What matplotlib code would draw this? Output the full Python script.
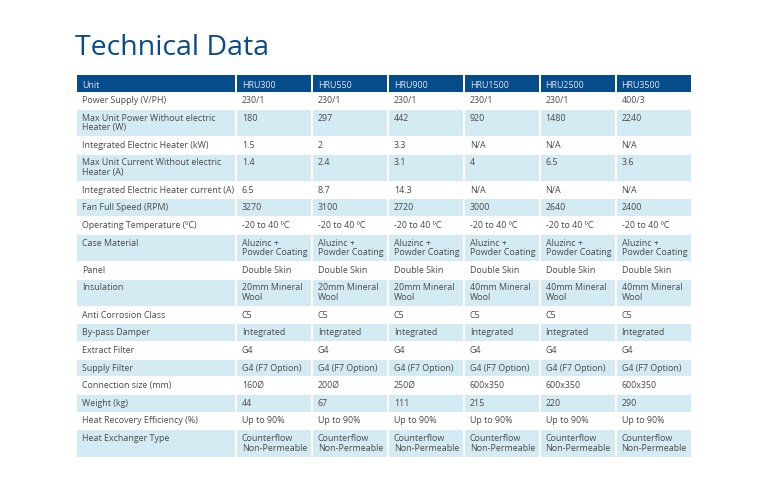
import matplotlib.pyplot as plt
from matplotlib.patches import Rectangle

plt.rcParams['font.family'] = ['Open Sans', 'DejaVu Sans']

title = "Technical Data"
units = ["HRU300", "HRU550", "HRU900", "HRU1500", "HRU2500", "HRU3500"]
row_labels = [
    "Power Supply (V/PH)",
    "Max Unit Power Without electric\nHeater (W)",
    "Integrated Electric Heater (kW)",
    "Max Unit Current Without electric\nHeater (A)",
    "Integrated Electric Heater current (A)",
    "Fan Full Speed (RPM)",
    "Operating Temperature (ºC)",
    "Case Material",
    "Panel",
    "Insulation",
    "Anti Corrosion Class",
    "By-pass Damper",
    "Extract Filter",
    "Supply Filter",
    "Connection size (mm)",
    "Weight (kg)",
    "Heat Recovery Efficiency (%)",
    "Heat Exchanger Type",
]
power_supply = ["230/1", "230/1", "230/1", "230/1", "230/1", "400/3"]
max_power = ["180", "297", "442", "920", "1480", "2240"]
heater_kw = ["1.5", "2", "3.3", "N/A", "N/A", "N/A"]
max_current = ["1.4", "2.4", "3.1", "4", "6.5", "3.6"]
heater_current = ["6.5", "8.7", "14.3", "N/A", "N/A", "N/A"]
fan_speed = ["3270", "3100", "2720", "3000", "2640", "2400"]
op_temp = ["-20 to 40 ºC"] * 6
case_material = ["Aluzinc +\nPowder Coating"] * 6
panel = ["Double Skin"] * 6
insulation = ["20mm Mineral\nWool"] * 3 + ["40mm Mineral\nWool"] * 3
corrosion = ["C5"] * 6
bypass = ["Integrated"] * 6
extract_filter = ["G4"] * 6
supply_filter = ["G4 (F7 Option)"] * 6
connection = ["160Ø", "200Ø", "250Ø", "600x350", "600x350", "600x350"]
weight = ["44", "67", "111", "215", "220", "290"]
efficiency = ["Up to 90%"] * 6
exchanger = ["Counterflow\nNon-Permeable"] * 6

values = [power_supply, max_power, heater_kw, max_current, heater_current,
          fan_speed, op_temp, case_material, panel, insulation, corrosion,
          bypass, extract_filter, supply_filter, connection, weight,
          efficiency, exchanger]

navy = "#064b8a"
shade = "#d4ebf4"
txt = "#4a4a4a"

fig = plt.figure(figsize=(7.68, 5.02), dpi=100)
ax = fig.add_axes([0, 0, 1, 1])
ax.set_xlim(0, 768)
ax.set_ylim(502, 0)
ax.axis("off")

ax.text(75, 48, title, fontsize=20.5, color=navy, va="center", ha="left")

left = 77
first_w = 160
col_w = 75.9
gap = 1.6
single_h = 17.6
double_h = 27.3
header_top = 76
header_h = 17
fs = 6.4

xs = [left] + [left + first_w + i * col_w for i in range(len(units))]
ws = [first_w] + [col_w] * len(units)

# header
for j, lab in enumerate(["Unit"] + units):
    ax.add_patch(Rectangle((xs[j], header_top), ws[j] - gap, header_h,
                           facecolor=navy, edgecolor="none"))
    ax.text(xs[j] + 5, header_top + header_h / 2 + 0.5, lab, fontsize=fs,
            color="#dfe8f2", va="center", ha="left")

y = header_top + header_h
for i, lab in enumerate(row_labels):
    cells = [lab] + values[i]
    n_lines = max(c.count("\n") + 1 for c in cells)
    h = single_h if n_lines == 1 else double_h
    for j, c in enumerate(cells):
        if i % 2 == 1:
            ax.add_patch(Rectangle((xs[j], y), ws[j] - gap, h - gap / 2,
                                   facecolor=shade, edgecolor="none"))
        ax.text(xs[j] + 5, y + 3, c, fontsize=fs, color=txt, va="top",
                ha="left", linespacing=1.1)
    y += h

fig.savefig("out.png", dpi=100)
